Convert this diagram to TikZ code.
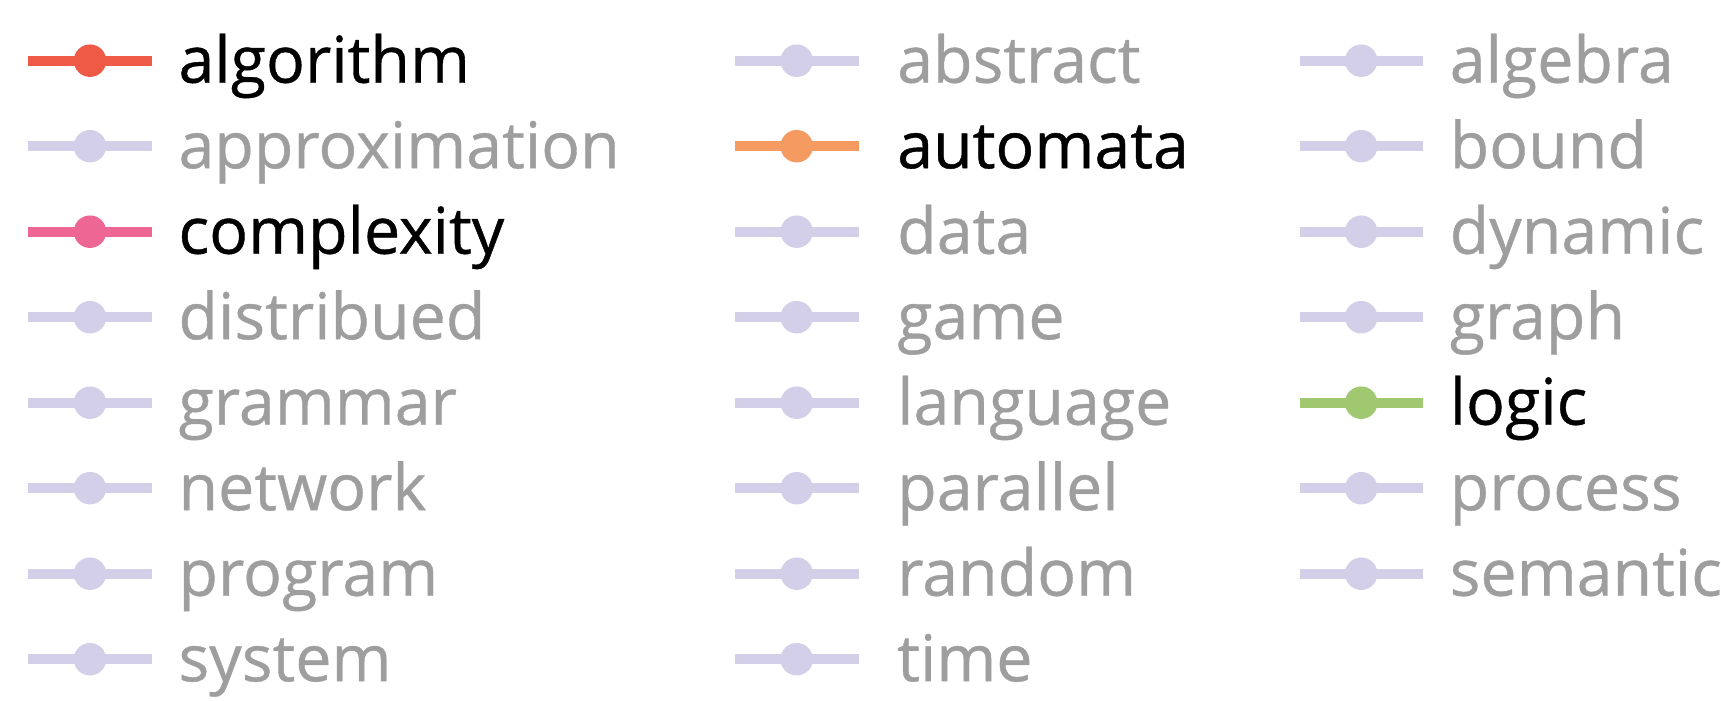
\documentclass[tikz,border=0pt]{standalone}
\usepackage{fontspec}
\setmainfont{Open Sans}[FakeBold=0.6]
\definecolor{lav}{HTML}{D3CFE9}
\definecolor{txtgray}{HTML}{9E9E9E}
\definecolor{cred}{HTML}{EE5A45}
\definecolor{cpink}{HTML}{EE6693}
\definecolor{corange}{HTML}{F59B62}
\definecolor{cgreen}{HTML}{9FC870}
\tikzset{
  legline/.style={line width=10pt},
  legdot/.style={circle, inner sep=0pt, minimum size=32.5pt},
  leglabel/.style={anchor=base west, inner sep=0pt, font=\fontsize{64.5}{70}\selectfont},
}
\newcommand{\legitem}[6]{% name, x, y, colour, text colour, text offset
  \coordinate (#1-l) at (#2,#3);
  \coordinate (#1-r) at ([xshift=123.5pt]#1-l);
  \draw[legline, draw=#4] (#1-l) -- (#1-r);
  \node[legdot, fill=#4] (#1-dot) at ([xshift=61.7pt]#1-l) {};
  \node[leglabel, text=#5] (#1-txt) at ([xshift=#6, yshift=-22pt]#1-l) {#1};
}
\begin{document}
\begin{tikzpicture}[x=1pt,y=-1pt]
\useasboundingbox (0,0) rectangle (1721,701);
% column 1
\legitem{algorithm}{28.3}{60.7}{cred}{black}{150pt}
\legitem{approximation}{28.3}{146.2}{lav}{txtgray}{150pt}
\legitem{complexity}{28.3}{231.7}{cpink}{black}{150pt}
\legitem{distribued}{28.3}{317.2}{lav}{txtgray}{150pt}
\legitem{grammar}{28.3}{402.7}{lav}{txtgray}{150pt}
\legitem{network}{28.3}{488.2}{lav}{txtgray}{150pt}
\legitem{program}{28.3}{573.7}{lav}{txtgray}{150pt}
\legitem{system}{28.3}{659.2}{lav}{txtgray}{150pt}
% column 2
\legitem{abstract}{735}{60.7}{lav}{txtgray}{162pt}
\legitem{automata}{735}{146.2}{corange}{black}{162pt}
\legitem{data}{735}{231.7}{lav}{txtgray}{162pt}
\legitem{game}{735}{317.2}{lav}{txtgray}{162pt}
\legitem{language}{735}{402.7}{lav}{txtgray}{162pt}
\legitem{parallel}{735}{488.2}{lav}{txtgray}{162pt}
\legitem{random}{735}{573.7}{lav}{txtgray}{162pt}
\legitem{time}{735}{659.2}{lav}{txtgray}{162pt}
% column 3
\legitem{algebra}{1299.5}{60.7}{lav}{txtgray}{150pt}
\legitem{bound}{1299.5}{146.2}{lav}{txtgray}{150pt}
\legitem{dynamic}{1299.5}{231.7}{lav}{txtgray}{150pt}
\legitem{graph}{1299.5}{317.2}{lav}{txtgray}{150pt}
\legitem{logic}{1299.5}{402.7}{cgreen}{black}{150pt}
\legitem{process}{1299.5}{488.2}{lav}{txtgray}{150pt}
\legitem{semantic}{1299.5}{573.7}{lav}{txtgray}{150pt}
\end{tikzpicture}
\end{document}
